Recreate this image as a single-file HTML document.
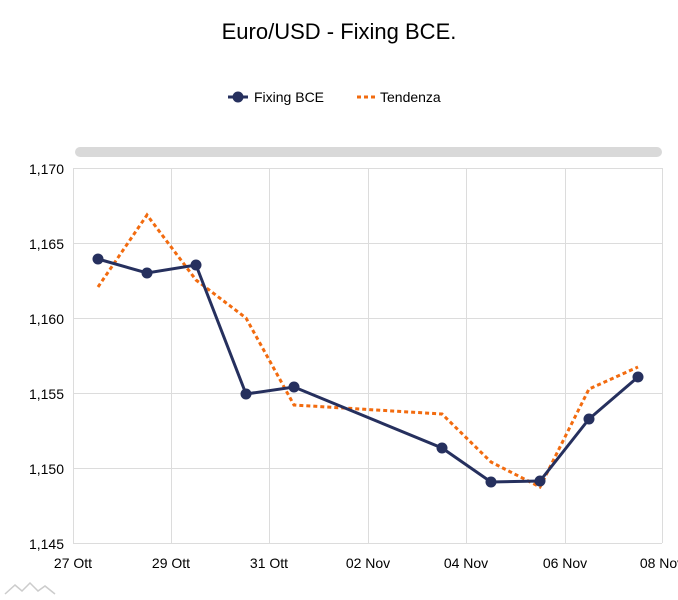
<!DOCTYPE html>
<html><head><meta charset="utf-8"><style>
body{margin:0;background:#fff;}
svg{display:block;font-family:"Liberation Sans",sans-serif;}
</style></head><body>
<svg width="678" height="600" viewBox="0 0 678 600">
<text x="339" y="39" font-size="22" text-anchor="middle" fill="#000">Euro/USD - Fixing BCE.</text>
<line x1="228" y1="97" x2="248" y2="97" stroke="#26305e" stroke-width="3"/>
<circle cx="238" cy="97" r="5.5" fill="#26305e"/>
<text x="254" y="102" font-size="14" fill="#000">Fixing BCE</text>
<line x1="357" y1="97" x2="376" y2="97" stroke="#f26b0f" stroke-width="3" stroke-dasharray="4,3"/>
<text x="380" y="102" font-size="14" fill="#000">Tendenza</text>
<rect x="75" y="147" width="587" height="10" rx="5" fill="#d9d9d9"/>
<g stroke="#dcdcdc" stroke-width="1">
<line x1="73" y1="168.5" x2="662" y2="168.5"/>
<line x1="73" y1="243.5" x2="662" y2="243.5"/>
<line x1="73" y1="318.5" x2="662" y2="318.5"/>
<line x1="73" y1="393.5" x2="662" y2="393.5"/>
<line x1="73" y1="468.5" x2="662" y2="468.5"/>
<line x1="73" y1="543.5" x2="662" y2="543.5"/>
<line x1="73.5" y1="168" x2="73.5" y2="543"/>
<line x1="171.5" y1="168" x2="171.5" y2="543"/>
<line x1="269.5" y1="168" x2="269.5" y2="543"/>
<line x1="368.5" y1="168" x2="368.5" y2="543"/>
<line x1="466.5" y1="168" x2="466.5" y2="543"/>
<line x1="565.5" y1="168" x2="565.5" y2="543"/>
<line x1="662.5" y1="168" x2="662.5" y2="543"/>
</g>
<g font-size="14" fill="#000" text-anchor="end">
<text x="64" y="174">1,170</text>
<text x="64" y="249">1,165</text>
<text x="64" y="324">1,160</text>
<text x="64" y="399">1,155</text>
<text x="64" y="474">1,150</text>
<text x="64" y="549">1,145</text>
</g>
<g font-size="14" fill="#000" text-anchor="middle">
<text x="73" y="568">27 Ott</text>
<text x="171" y="568">29 Ott</text>
<text x="269" y="568">31 Ott</text>
<text x="368" y="568">02 Nov</text>
<text x="466" y="568">04 Nov</text>
<text x="565" y="568">06 Nov</text>
<text x="662" y="568">08 Nov</text>
</g>
<polyline fill="none" stroke="#f26b0f" stroke-width="3" stroke-dasharray="4,3" points="98,287 147,215 196,280 246,318 294,405 442,414 491,462 540,487 589,389 638,367"/>
<polyline fill="none" stroke="#26305e" stroke-width="3" points="98,259 147,273 196,265 246,394 294,387 442,448 491,482 540,481 589,419 638,377"/>
<g fill="#26305e">
<circle cx="98" cy="259" r="5.5"/><circle cx="147" cy="273" r="5.5"/><circle cx="196" cy="265" r="5.5"/><circle cx="246" cy="394" r="5.5"/><circle cx="294" cy="387" r="5.5"/><circle cx="442" cy="448" r="5.5"/><circle cx="491" cy="482" r="5.5"/><circle cx="540" cy="481" r="5.5"/><circle cx="589" cy="419" r="5.5"/><circle cx="638" cy="377" r="5.5"/>
</g>
<path d="M5,594 L15,585 L22,591 L30,583 L38,591 L45,586 L55,594" fill="none" stroke="#ccc" stroke-width="1.5"/>
</svg>
</body></html>
